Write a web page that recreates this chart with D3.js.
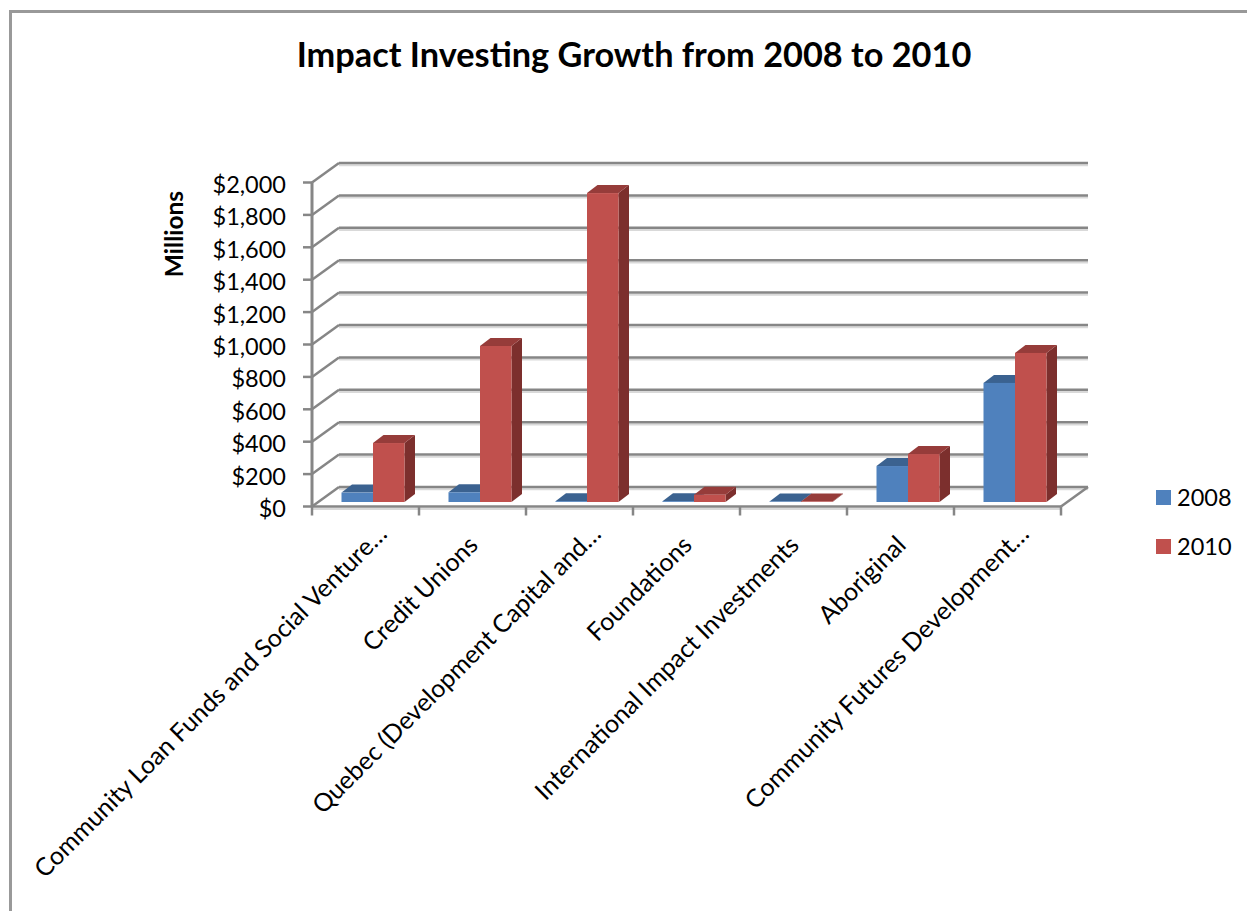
<!DOCTYPE html>
<html>
<head>
<meta charset="utf-8">
<script src="https://cdn.jsdelivr.net/npm/d3@7"></script>
<style>
  html, body { margin: 0; padding: 0; background: #fff; }
  svg { display: block; font-family: Lato, "Open Sans", sans-serif; }
</style>
</head>
<body>
<svg id="chart" width="1247" height="911"></svg>
<script>
const categories = [
  "Community Loan Funds and Social Venture…",
  "Credit Unions",
  "Quebec (Development Capital and…",
  "Foundations",
  "International Impact Investments",
  "Aboriginal",
  "Community Futures Development…"
];
const seriesNames = ["2008", "2010"];
const values2008 = [58, 60, 5, 5, 3, 222, 735];
const values2010 = [364, 963, 1907, 45, 3, 296, 920];
const yTicks = [0, 200, 400, 600, 800, 1000, 1200, 1400, 1600, 1800, 2000];

const colors = {
  "2008": { front: "#4f81bd", top: "#3b6290", side: "#2f4f75" },
  "2010": { front: "#c0504d", top: "#963c3a", side: "#7c2f2d" }
};
const gridColor = "#868686";

const svg = d3.select("#chart");

// Chart frame
svg.append("path")
  .attr("d", "M10.5,912V11.5H1248")
  .attr("fill", "none").attr("stroke", "#999").attr("stroke-width", 3);

// Front plane of the 3-D box
const x = d3.scaleBand().domain(categories).range([312, 1061]);
const y = d3.scaleLinear().domain([0, 2000]).range([506.5, 182.5]);
const inner = d3.scaleBand().domain(seriesNames).range([29.5, 92.5]);

// Depth of the walls and of each column
const wall = { dx: 27, dy: -19.5 };
const col = { dx: 10.5, dy: -8, lift: 4.5 };

// Back-wall gridlines, the side-wall diagonals and their soft shadows
const grid = svg.append("g").attr("fill", "none");
grid.selectAll("line.shadow").data(yTicks).join("line")
  .attr("class", "shadow")
  .attr("x1", x.range()[0] + wall.dx).attr("x2", x.range()[1] + wall.dx)
  .attr("y1", d => y(d) + wall.dy + 2.2).attr("y2", d => y(d) + wall.dy + 2.2)
  .attr("stroke", "#d9d9d9").attr("stroke-width", 2);
grid.selectAll("line.back").data(yTicks).join("line")
  .attr("class", "back")
  .attr("x1", x.range()[0] + wall.dx).attr("x2", x.range()[1] + wall.dx)
  .attr("y1", d => y(d) + wall.dy).attr("y2", d => y(d) + wall.dy)
  .attr("stroke", gridColor).attr("stroke-width", 2.5);
grid.selectAll("line.diag").data(yTicks).join("line")
  .attr("class", "diag")
  .attr("x1", x.range()[0]).attr("x2", x.range()[0] + wall.dx)
  .attr("y1", d => y(d)).attr("y2", d => y(d) + wall.dy)
  .attr("stroke", gridColor).attr("stroke-width", 2.5);

// Floor edge on the right
grid.append("line")
  .attr("x1", x.range()[1]).attr("x2", x.range()[1] + wall.dx)
  .attr("y1", y(0)).attr("y2", y(0) + wall.dy)
  .attr("stroke", gridColor).attr("stroke-width", 2.5);

// Columns: side and top faces first, then the front face
const rows = categories.flatMap((c, i) => [
  { c, s: "2008", v: values2008[i] },
  { c, s: "2010", v: values2010[i] }
]);
const bars = svg.append("g");
const base = y(0) - col.lift;
const barTop = d => base - (y(0) - y(d.v));
const left = d => x(d.c) + inner(d.s);
const right = d => left(d) + inner.bandwidth();

const groups = bars.selectAll("g").data(rows).join("g");
groups.append("path")
  .attr("fill", d => colors[d.s].side)
  .attr("d", d => `M${right(d)},${base}L${right(d) + col.dx},${base + col.dy}L${right(d) + col.dx},${barTop(d) + col.dy}L${right(d)},${barTop(d)}Z`);
groups.append("path")
  .attr("fill", d => colors[d.s].top)
  .attr("d", d => `M${left(d)},${barTop(d)}L${left(d) + col.dx},${barTop(d) + col.dy}L${right(d) + col.dx},${barTop(d) + col.dy}L${right(d)},${barTop(d)}Z`);
groups.append("rect")
  .attr("fill", d => colors[d.s].front)
  .attr("x", left).attr("y", barTop)
  .attr("width", inner.bandwidth())
  .attr("height", d => base - barTop(d));

// Value axis
const yAxis = svg.append("g");
yAxis.append("line")
  .attr("x1", 312).attr("x2", 312).attr("y1", y(2000)).attr("y2", y(0))
  .attr("stroke", gridColor).attr("stroke-width", 3);
yAxis.selectAll("line.tick").data(yTicks).join("line")
  .attr("class", "tick")
  .attr("x1", 303).attr("x2", 312).attr("y1", d => y(d)).attr("y2", d => y(d))
  .attr("stroke", gridColor).attr("stroke-width", 2.5);
yAxis.selectAll("text").data(yTicks).join("text")
  .attr("x", 286).attr("y", d => y(d) + 10.5)
  .attr("text-anchor", "end").attr("font-size", 23.5).attr("fill", "#000")
  .text(d3.format("$,"));

// Category axis
const xAxis = svg.append("g");
xAxis.append("line")
  .attr("x1", 312).attr("x2", 1061).attr("y1", y(0) + 2.4).attr("y2", y(0) + 2.4)
  .attr("stroke", "#d9d9d9").attr("stroke-width", 2);
xAxis.append("line")
  .attr("x1", 311).attr("x2", 1061).attr("y1", y(0)).attr("y2", y(0))
  .attr("stroke", gridColor).attr("stroke-width", 2.5);
xAxis.selectAll("line.tick").data([...categories.map(c => x(c)), x.range()[1]]).join("line")
  .attr("class", "tick")
  .attr("x1", d => d).attr("x2", d => d).attr("y1", y(0)).attr("y2", y(0) + 9)
  .attr("stroke", gridColor).attr("stroke-width", 2.5);

// Shortened labels sit further along the slant than the complete ones
const labelX = d => x(d) + x.bandwidth() / 2 + (d.endsWith("…") ? 23 : 7);
const labelY = d => y(0) + (d.endsWith("…") ? 29 : 40);
xAxis.selectAll("text").data(categories).join("text")
  .attr("text-anchor", "end").attr("font-size", 25).attr("fill", "#000")
  .attr("transform", d => `translate(${labelX(d)},${labelY(d)}) rotate(-45)`)
  .text(d => d);

// Titles
svg.append("text")
  .attr("x", 634).attr("y", 67).attr("text-anchor", "middle")
  .attr("font-size", 34.3).attr("font-weight", 700).attr("fill", "#000")
  .text("Impact Investing Growth from 2008 to 2010");
svg.append("text")
  .attr("transform", "translate(183,234) rotate(-90)")
  .attr("text-anchor", "middle").attr("font-size", 24.5).attr("font-weight", 700).attr("fill", "#000")
  .text("Millions");

// Legend
const legend = svg.append("g");
const legendY = d3.scalePoint().domain(seriesNames).range([497.5, 546.5]);
legend.selectAll("rect").data(seriesNames).join("rect")
  .attr("x", 1156).attr("y", d => legendY(d) - 7.5).attr("width", 15).attr("height", 15)
  .attr("fill", d => colors[d].front);
legend.selectAll("text").data(seriesNames).join("text")
  .attr("x", 1177).attr("y", d => legendY(d) + 8).attr("font-size", 23.5).attr("fill", "#000")
  .text(d => d);
</script>
</body>
</html>
